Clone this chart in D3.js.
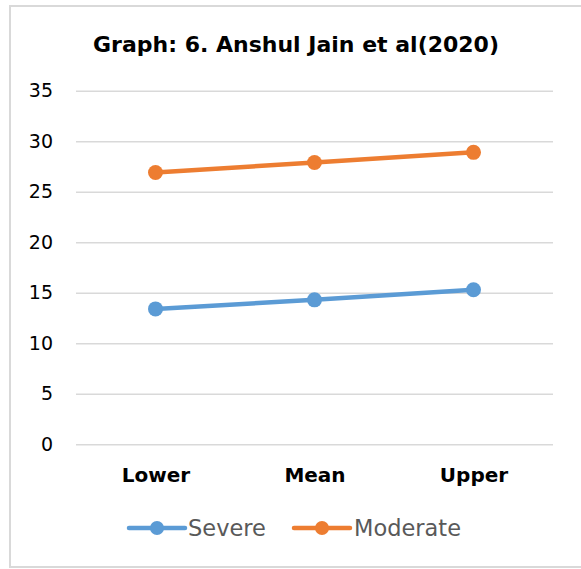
<!DOCTYPE html>
<html>
<head>
<meta charset="utf-8">
<script src="https://cdn.jsdelivr.net/npm/d3@7/dist/d3.min.js"></script>
<style>
  html, body { margin: 0; padding: 0; background: #fff; }
  svg { display: block; }
  text { font-family: "Century Gothic", "DejaVu Sans", sans-serif; }
</style>
</head>
<body>
<svg id="chart" width="581" height="569"></svg>
<script>
// Chart data
const categories = ["Lower", "Mean", "Upper"];
const severe = [13.4, 14.3, 15.3];
const moderate = [26.9, 27.9, 28.9];
const yTicks = [0, 5, 10, 15, 20, 25, 30, 35];
const seriesNames = ["Severe", "Moderate"];
const title = "Graph: 6. Anshul Jain et al(2020)";

const series = [
  { name: seriesNames[0], values: severe, color: "#5b9bd5" },
  { name: seriesNames[1], values: moderate, color: "#ed7d31" }
];

const svg = d3.select("#chart");
const FONT = "\"Century Gothic\", \"DejaVu Sans\", sans-serif";

// Outer frame (right edge runs past the canvas)
svg.append("rect")
  .attr("x", 10).attr("y", 6)
  .attr("width", 600).attr("height", 561)
  .attr("fill", "#fff")
  .attr("stroke", "#d9d9d9").attr("stroke-width", 2);

const plot = { left: 76, right: 553, top: 90.7, bottom: 444.3 };

const x = d3.scalePoint().domain(categories)
  .range([plot.left, plot.right]).padding(0.5);
const y = d3.scaleLinear().domain([0, 35]).range([plot.bottom, plot.top]);

// Title
svg.append("text")
  .attr("x", 296).attr("y", 52)
  .attr("text-anchor", "middle")
  .attr("font-size", 22).attr("font-weight", "bold")
  .attr("fill", "#000")
  .text(title);

// Gridlines + y labels
const yAxis = d3.axisLeft(y).tickValues(yTicks)
  .tickSize(-(plot.right - plot.left)).tickPadding(23);
const gy = svg.append("g").attr("transform", `translate(${plot.left},0)`).call(yAxis);
gy.select(".domain").remove();
gy.selectAll(".tick line").attr("stroke", "#d9d9d9").attr("stroke-width", 1.5);
gy.selectAll(".tick text")
  .attr("font-size", 19).attr("fill", "#000")
  .attr("font-family", FONT);

// Category labels
const xAxis = d3.axisBottom(x).tickSize(0).tickPadding(24);
const gx = svg.append("g").attr("transform", `translate(0,${plot.bottom})`).call(xAxis);
gx.select(".domain").remove();
gx.selectAll(".tick text")
  .attr("font-size", 20).attr("font-weight", "bold").attr("fill", "#000")
  .attr("font-family", FONT);

// Lines and markers
const line = d3.line().x((d, i) => x(categories[i])).y(d => y(d));
series.forEach(s => {
  svg.append("path")
    .attr("d", line(s.values))
    .attr("fill", "none")
    .attr("stroke", s.color)
    .attr("stroke-width", 4.5)
    .attr("stroke-linecap", "round")
    .attr("stroke-linejoin", "round");
  svg.selectAll(null).data(s.values).enter().append("circle")
    .attr("cx", (d, i) => x(categories[i]))
    .attr("cy", d => y(d))
    .attr("r", 7.5)
    .attr("fill", s.color);
});

// Legend
const legendY = 528;
const legendItems = [
  { x0: 129, tx: 188 },
  { x0: 294, tx: 354 }
];
series.forEach((s, i) => {
  const it = legendItems[i];
  const g = svg.append("g");
  g.append("line")
    .attr("x1", it.x0).attr("x2", it.x0 + 56)
    .attr("y1", legendY).attr("y2", legendY)
    .attr("stroke", s.color).attr("stroke-width", 4.5)
    .attr("stroke-linecap", "round");
  g.append("circle")
    .attr("cx", it.x0 + 28).attr("cy", legendY).attr("r", 7)
    .attr("fill", s.color);
  g.append("text")
    .attr("x", it.tx).attr("y", legendY)
    .attr("dy", "0.36em")
    .attr("font-size", 22.5).attr("fill", "#595959")
    .text(s.name);
});
</script>
</body>
</html>
